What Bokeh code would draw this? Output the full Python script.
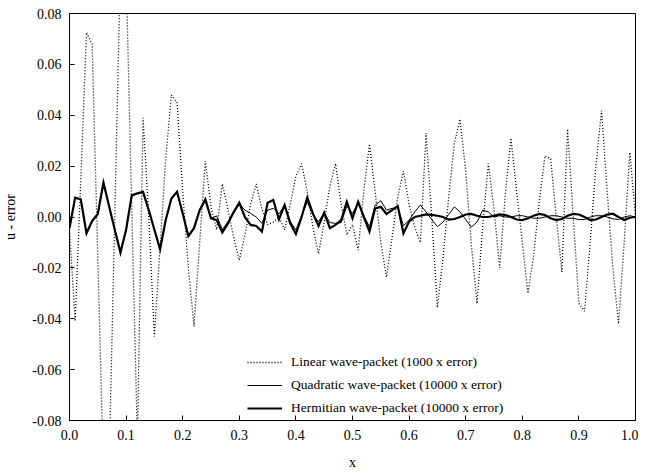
from bokeh.plotting import figure
from bokeh.models import Range1d, FixedTicker, PrintfTickFormatter, Legend, LegendItem
from bokeh.embed import file_html
from bokeh.resources import INLINE

# sample positions
x = [0.00, 0.01, 0.02, 0.03, 0.04, 0.05, 0.06, 0.07, 0.08, 0.09,
     0.10, 0.11, 0.12, 0.13, 0.14, 0.15, 0.16, 0.17, 0.18, 0.19,
     0.20, 0.21, 0.22, 0.23, 0.24, 0.25, 0.26, 0.27, 0.28, 0.29,
     0.30, 0.31, 0.32, 0.33, 0.34, 0.35, 0.36, 0.37, 0.38, 0.39,
     0.40, 0.41, 0.42, 0.43, 0.44, 0.45, 0.46, 0.47, 0.48, 0.49,
     0.50, 0.51, 0.52, 0.53, 0.54, 0.55, 0.56, 0.57, 0.58, 0.59,
     0.60, 0.61, 0.62, 0.63, 0.64, 0.65, 0.66, 0.67, 0.68, 0.69,
     0.70, 0.71, 0.72, 0.73, 0.74, 0.75, 0.76, 0.77, 0.78, 0.79,
     0.80, 0.81, 0.82, 0.83, 0.84, 0.85, 0.86, 0.87, 0.88, 0.89,
     0.90, 0.91, 0.92, 0.93, 0.94, 0.95, 0.96, 0.97, 0.98, 0.99,
     1.00]

# Linear wave-packet (1000 x error)
linear = [-0.005, -0.041, 0.015, 0.0725, 0.068, -0.016, -0.100, -0.097, 0.000, 0.099,
          0.097, 0.003, -0.088, 0.039, 0.000, -0.047, -0.012, 0.023, 0.048, 0.045,
          0.010, -0.020, -0.043, -0.010, 0.022, 0.004, -0.005, 0.013, 0.003, -0.008,
          -0.017, -0.007, 0.005, 0.013, 0.003, -0.003, -0.002, 0.000, -0.005, 0.005,
          0.016, 0.021, 0.010, -0.004, -0.0145, -0.002, 0.012, 0.021, 0.005, -0.007,
          -0.003, -0.013, 0.010, 0.0287, 0.010, -0.010, -0.0237, -0.008, 0.008, 0.018,
          0.005, -0.004, -0.010, 0.033, 0.000, -0.0355, -0.016, 0.008, 0.029, 0.0385,
          0.018, -0.011, -0.034, -0.004, 0.021, 0.003, -0.020, 0.009, 0.031, 0.010,
          -0.010, -0.030, -0.015, 0.006, 0.024, 0.023, 0.000, -0.0217, 0.0346, 0.000,
          -0.034, -0.037, -0.010, 0.020, 0.0418, 0.010, -0.020, -0.042, -0.010, 0.0254,
          0.000]

# Quadratic wave-packet (10000 x error)
quadratic = [-0.0044, 0.0076, 0.0069, -0.0064, -0.0016, 0.0012, 0.0135, 0.0042, -0.0050, -0.0140,
             -0.0050, 0.0080, 0.0093, 0.0099, 0.0027, -0.0050, -0.0127, -0.0012, 0.0073, 0.0099,
             0.0014, -0.0075, -0.0040, 0.0030, 0.0065, -0.0005, 0.0004, -0.0050, -0.0018, 0.0014,
             0.0051, 0.0027, 0.0014, 0.0000, -0.0025, 0.0027, 0.0034, 0.0012, 0.0047, -0.0018,
             -0.0051, 0.0004, 0.0060, 0.0008, -0.0018, 0.0017, -0.0022, -0.0025, -0.0022, 0.0043,
             0.0014, 0.0056, 0.0004, -0.0038, 0.0047, 0.0064, 0.0027, 0.0034, 0.0038, -0.0035,
             -0.0012, 0.0020, 0.0047, 0.0020, -0.0010, -0.0038, -0.0020, 0.0010, 0.0040, 0.0020,
             -0.0010, -0.0040, -0.0020, 0.0027, 0.0020, 0.0000, 0.0005, 0.0000, 0.0000, 0.0005,
             0.0005, 0.0000, -0.0005, -0.0005, 0.0000, 0.0005, 0.0005, 0.0000, -0.0005, -0.0005,
             -0.0010, -0.0010, 0.0000, 0.0005, 0.0005, 0.0000, -0.0007, -0.0010, 0.0000, 0.0005,
             0.0000]

# Hermitian wave-packet (10000 x error)
hermitian = [-0.0044, 0.0076, 0.0069, -0.0064, -0.0016, 0.0012, 0.0135, 0.0042, -0.0050, -0.0140,
             -0.0050, 0.0086, 0.0093, 0.0099, 0.0027, -0.0050, -0.0127, -0.0012, 0.0073, 0.0099,
             0.0014, -0.0075, -0.0044, 0.0027, 0.0069, -0.0005, -0.0012, -0.0061, -0.0025, 0.0020,
             0.0056, -0.0001, -0.0031, -0.0035, -0.0057, 0.0056, 0.0067, -0.0009, 0.0047, -0.0025,
             -0.0067, 0.0000, 0.0076, 0.0014, -0.0035, 0.0017, -0.0044, -0.0031, -0.0012, 0.0060,
             -0.0005, 0.0060, 0.0000, -0.0057, 0.0034, 0.0040, 0.0012, 0.0027, 0.0043, -0.0064,
             -0.0018, 0.0000, 0.0005, 0.0010, 0.0008, 0.0005, 0.0000, -0.0010, -0.0008, 0.0000,
             0.0010, 0.0012, 0.0005, 0.0000, 0.0000, 0.0005, 0.0010, 0.0008, 0.0000, -0.0010,
             -0.0012, -0.0005, 0.0005, 0.0012, 0.0008, -0.0005, -0.0012, -0.0008, 0.0005, 0.0012,
             0.0010, 0.0000, -0.0012, -0.0010, 0.0000, 0.0010, 0.0013, 0.0000, -0.0012, -0.0003,
             0.0000]

x_ticks = [0.0, 0.1, 0.2, 0.3, 0.4, 0.5, 0.6, 0.7, 0.8, 0.9, 1.0]
y_ticks = [-0.08, -0.06, -0.04, -0.02, 0.0, 0.02, 0.04, 0.06, 0.08]

labels = ["Linear wave-packet (1000 x error)",
          "Quadratic wave-packet (10000 x error)",
          "Hermitian wave-packet (10000 x error)"]

FONT = "Liberation Serif"

p = figure(width=638, height=472, output_backend="svg", toolbar_location=None,
           x_range=Range1d(0, 1), y_range=Range1d(-0.08, 0.08),
           min_border_left=69, min_border_right=3, min_border_top=13, min_border_bottom=45,
           background_fill_color="white", border_fill_color="white")

p.xgrid.visible = False
p.ygrid.visible = False
p.outline_line_color = "black"
p.outline_line_width = 1
p.outline_line_alpha = 1

for ax in (p.xaxis[0], p.yaxis[0]):
    ax.major_tick_in = 5
    ax.major_tick_out = 0
    ax.minor_tick_line_color = None
    ax.axis_line_color = "black"
    ax.major_tick_line_color = "black"
    ax.major_label_text_font = FONT
    ax.major_label_text_font_size = "14px"
    ax.major_label_text_color = "black"
    ax.axis_label_text_font = FONT
    ax.axis_label_text_font_size = "14px"
    ax.axis_label_text_font_style = "normal"
    ax.axis_label_text_color = "black"

p.xaxis.ticker = FixedTicker(ticks=x_ticks)
p.yaxis.ticker = FixedTicker(ticks=y_ticks)
p.xaxis.formatter = PrintfTickFormatter(format="%.1f")
p.yaxis.formatter = PrintfTickFormatter(format="%.2f")
p.xaxis.axis_label = "x"
p.yaxis.axis_label = "u - error"
p.xaxis.major_label_standoff = 9
p.yaxis.major_label_standoff = 8
p.xaxis.axis_label_standoff = 12
p.yaxis.axis_label_standoff = 11

r1 = p.line(x, linear, line_color="black", line_width=1.3, line_dash="1 2")
r2 = p.line(x, quadratic, line_color="black", line_width=1, line_join="miter")
r3 = p.line(x, hermitian, line_color="black", line_width=2.2, line_join="miter")

legend = Legend(items=[LegendItem(label=labels[0], renderers=[r1]),
                       LegendItem(label=labels[1], renderers=[r2]),
                       LegendItem(label=labels[2], renderers=[r3])],
                location=(178, 2), padding=0, spacing=3, glyph_width=35, glyph_height=20,
                label_height=20, label_standoff=9,
                border_line_alpha=0, background_fill_alpha=0,
                label_text_font=FONT, label_text_font_size="13.5px", label_text_color="black")
p.add_layout(legend)

open("out.html", "w").write(file_html(p, INLINE))
